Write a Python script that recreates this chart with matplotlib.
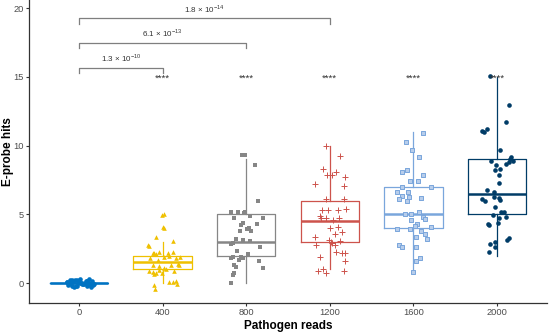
import numpy as np
import matplotlib.pyplot as plt

plt.rcParams['font.family'] = ['Liberation Sans', 'DejaVu Sans']
plt.rcParams['mathtext.fontset'] = 'custom'
plt.rcParams['mathtext.rm'] = 'Liberation Sans'

# groups on the x axis
groups = ['0', '400', '800', '1200', '1600', '2000']

# hits per replicate as drawn (points are jittered a little up/down in the original)
y0 = [0.05, -0.1, 0.2, 0.25, -0.2, 0.1, 0.0, -0.05, 0.15, -0.25, 0.3, 0.12,
      -0.15, 0.08, -0.3, 0.22, 0.02, -0.08, 0.18, -0.12, 0.05, -0.22, 0.28, -0.02,
      0.1, -0.18, 0.0, 0.15, -0.1, 0.06, -0.28, 0.2, -0.05, 0.12, -0.15, 0.03]
dx0 = [-0.15, -0.12, -0.08, -0.05, -0.02, 0.0, 0.02, 0.05, 0.08, 0.1, 0.12, 0.15,
       0.17, -0.1, -0.06, -0.03, 0.03, 0.06, 0.09, 0.13, -0.14, -0.04, 0.01, 0.07,
       0.11, -0.09, 0.16, -0.01, 0.04, -0.07, 0.14, -0.11, 0.18, 0.1, -0.13, 0.0]

y400 = [4.95, 5.0, 4.05, 4.0, 3.37, 3.06, 2.75, 2.68,
        2.2, 2.2, 2.1, 2.25, 2.2, 2.25, 1.9, 1.9, 1.8, 1.85, 1.7, 2.0,
        1.35, 1.25, 1.4, 1.3, 1.3, 0.85, 0.8, 0.75, 0.95, 0.7, 0.9, 0.65, 1.1, 1.0,
        -0.15, -0.4, 0.1, 0.05, 0.12, -0.05]
dx400 = [-0.01, 0.01, 0.0, 0.02, -0.08, 0.12, -0.18, -0.16,
         -0.12, -0.1, -0.08, -0.04, 0.06, 0.12, 0.02, 0.21, 0.16, -0.15, -0.06, 0.08,
         -0.12, -0.05, 0.18, 0.2, 0.1, -0.16, -0.12, -0.08, -0.04, -0.01, 0.14, -0.1, 0.01, 0.04,
         -0.1, -0.09, 0.08, 0.12, 0.16, 0.17]

y800 = [9.3, 9.35, 8.6, 6.0, 5.2, 5.2, 5.1, 5.2, 4.9, 4.7, 4.7, 4.4, 4.2, 4.3,
        3.9, 3.8, 3.8, 4.0, 3.2, 3.15, 3.05, 2.9, 2.85, 2.6, 2.3, 2.1, 1.9, 1.85,
        1.9, 1.7, 1.8, 1.6, 1.3, 1.15, 1.1, 0.75, 0.6, 0.0]
dx800 = [-0.05, -0.01, 0.1, 0.14, -0.18, -0.1, -0.03, -0.02, 0.05, 0.2, -0.15, -0.04, -0.06, 0.13,
         0.01, 0.06, -0.08, 0.03, -0.12, -0.04, 0.04, -0.16, -0.18, 0.16, -0.11, 0.02, -0.16, -0.18,
         -0.06, -0.09, -0.04, 0.15, -0.15, -0.12, 0.2, -0.15, -0.16, -0.18]

y1200 = [9.96, 9.25, 8.3, 7.85, 7.85, 8.05, 7.75, 7.2, 7.05, 6.1, 6.1, 5.3, 5.3, 5.3,
         5.4, 4.9, 4.7, 4.7, 4.6, 4.75, 4.0, 4.1, 3.75, 3.6, 3.35, 2.75, 3.1, 3.0,
         3.05, 2.9, 2.75, 2.25, 2.2, 2.2, 1.9, 1.6, 1.05, 0.85, 0.7, 0.9]
dx1200 = [-0.04, 0.12, -0.08, -0.03, 0.03, 0.08, 0.18, -0.18, 0.17, -0.05, 0.17, -0.09, -0.02, 0.1,
          0.2, -0.12, -0.1, -0.05, 0.04, 0.11, 0.0, 0.1, 0.15, 0.06, -0.18, -0.17, -0.01, 0.02,
          0.12, 0.03, 0.06, 0.08, 0.15, 0.18, -0.12, 0.18, -0.08, -0.14, -0.05, 0.17]

y1600 = [10.9, 10.3, 9.7, 9.2, 8.1, 8.2, 7.9, 7.4, 7.4, 7.0, 7.0, 6.65, 6.6, 6.3,
         6.1, 6.0, 6.25, 6.2, 5.0, 5.05, 5.15, 4.8, 4.65, 4.6, 4.3, 4.15, 3.9, 3.9,
         3.8, 4.05, 3.6, 3.2, 3.35, 2.8, 2.65, 2.6, 1.8, 1.6, 0.8]
dx1600 = [0.11, -0.09, -0.02, 0.07, -0.14, -0.07, 0.12, -0.04, 0.05, -0.13, 0.21, -0.19, -0.06, -0.14,
          -0.17, -0.08, -0.05, 0.09, -0.1, -0.03, 0.07, 0.12, 0.14, -0.03, 0.04, 0.02, -0.19, -0.04,
          0.09, 0.21, 0.14, 0.16, 0.03, -0.17, -0.13, 0.03, 0.08, 0.03, 0.0]

y2000 = [15.1, 12.95, 11.75, 11.1, 11.0, 11.2, 9.7, 9.2, 9.05, 8.8, 8.7, 8.85, 8.6, 8.3,
         8.2, 7.85, 7.3, 6.8, 6.65, 6.1, 5.97, 6.26, 6.2, 6.07, 5.56, 5.15, 4.8, 4.7,
         4.3, 4.25, 4.35, 3.25, 3.1, 3.0, 2.85, 2.6, 2.26, 5.2, 4.95, 8.9]
dx2000 = [-0.08, 0.14, 0.11, -0.18, -0.16, -0.12, 0.04, 0.17, 0.16, 0.14, 0.11, -0.07, -0.01, 0.04,
          -0.02, 0.02, 0.03, -0.12, -0.03, -0.18, -0.14, -0.04, 0.02, 0.04, -0.02, 0.08, 0.11, 0.02,
          -0.11, -0.1, 0.01, 0.14, 0.12, -0.02, -0.08, -0.02, -0.1, 0.05, -0.05, 0.19]

ys = [y0, y400, y800, y1200, y1600, y2000]
dxs = [dx0, dx400, dx800, dx1200, dx1600, dx2000]

# p-value brackets: (from group, to group, mantissa, exponent)
brackets = [(0, 1, '1.3', '-10'), (0, 2, '6.1', '-13'), (0, 3, '1.8', '-14')]
bracket_y = [15.68, 17.5, 19.28]
signif = ['****'] * 5

colors = ['#0073C2', '#EFC000', '#868686', '#CD534C', '#7AA6DC', '#003C67']
markers = ['o', '^', 's', '+', 's', 'o']

fig = plt.figure(figsize=(5.5, 3.32), dpi=100)
ax = fig.add_axes([29 / 550, 29.3 / 332, 518 / 550, 302.7 / 332])

# counts are whole numbers, box stats use those
vals = [np.round(y) for y in ys]
bp = ax.boxplot(vals, positions=range(6), widths=0.7, showfliers=False,
                showcaps=False, whis=1.5, manage_ticks=False)
for i, c in enumerate(colors):
    bp['boxes'][i].set(color=c, linewidth=0.9)
    bp['medians'][i].set(color=c, linewidth=1.8)
    for w in bp['whiskers'][2 * i:2 * i + 2]:
        w.set(color=c, linewidth=0.9)

for i in range(6):
    x = i + np.array(dxs[i])
    c = colors[i]
    if i == 3:
        ax.scatter(x, ys[i], marker='+', s=24, color=c, linewidths=0.7, zorder=3)
    elif i == 4:
        ax.scatter(x, ys[i], marker='s', s=10, facecolor='#B7CDEB', edgecolor=c,
                   linewidths=0.7, zorder=3)
    else:
        ax.scatter(x, ys[i], marker=markers[i], s=11, color=c, linewidths=0, zorder=3)

# brackets
for (a, b, m, e), by in zip(brackets, bracket_y):
    ax.plot([a, a, b, b], [by - 0.4, by, by, by - 0.4], color='#7F7F7F', lw=0.9)
    ax.text((a + b) / 2, by + 0.25, m + ' × 10$^{' + e + '}$', ha='center', va='bottom',
            fontsize=5.8, color='#333333')

for i, s in enumerate(signif):
    ax.text(i + 1, 14.7, s, ha='center', va='baseline', fontsize=6.8, color='#333333')

ax.set_xlim(-0.6, 5.6)
ax.set_ylim(-1.43, 20.6)
ax.set_xticks(range(6))
ax.set_xticklabels(groups)
ax.set_yticks([0, 5, 10, 15, 20])
for sp in ['top', 'right']:
    ax.spines[sp].set_visible(False)
for sp in ['left', 'bottom']:
    ax.spines[sp].set_color('#333333')
    ax.spines[sp].set_linewidth(0.9)
ax.tick_params(labelsize=6.7, labelcolor='#4D4D4D', color='#333333', length=2.2,
               width=0.8, pad=1.5)
ax.set_xlabel('Pathogen reads', fontsize=8.5, fontweight='bold', labelpad=2)
ax.set_ylabel('E-probe hits', fontsize=8.5, fontweight='bold')
ax.yaxis.set_label_coords(-0.028, 0.5)

fig.savefig('out.png', dpi=100)
